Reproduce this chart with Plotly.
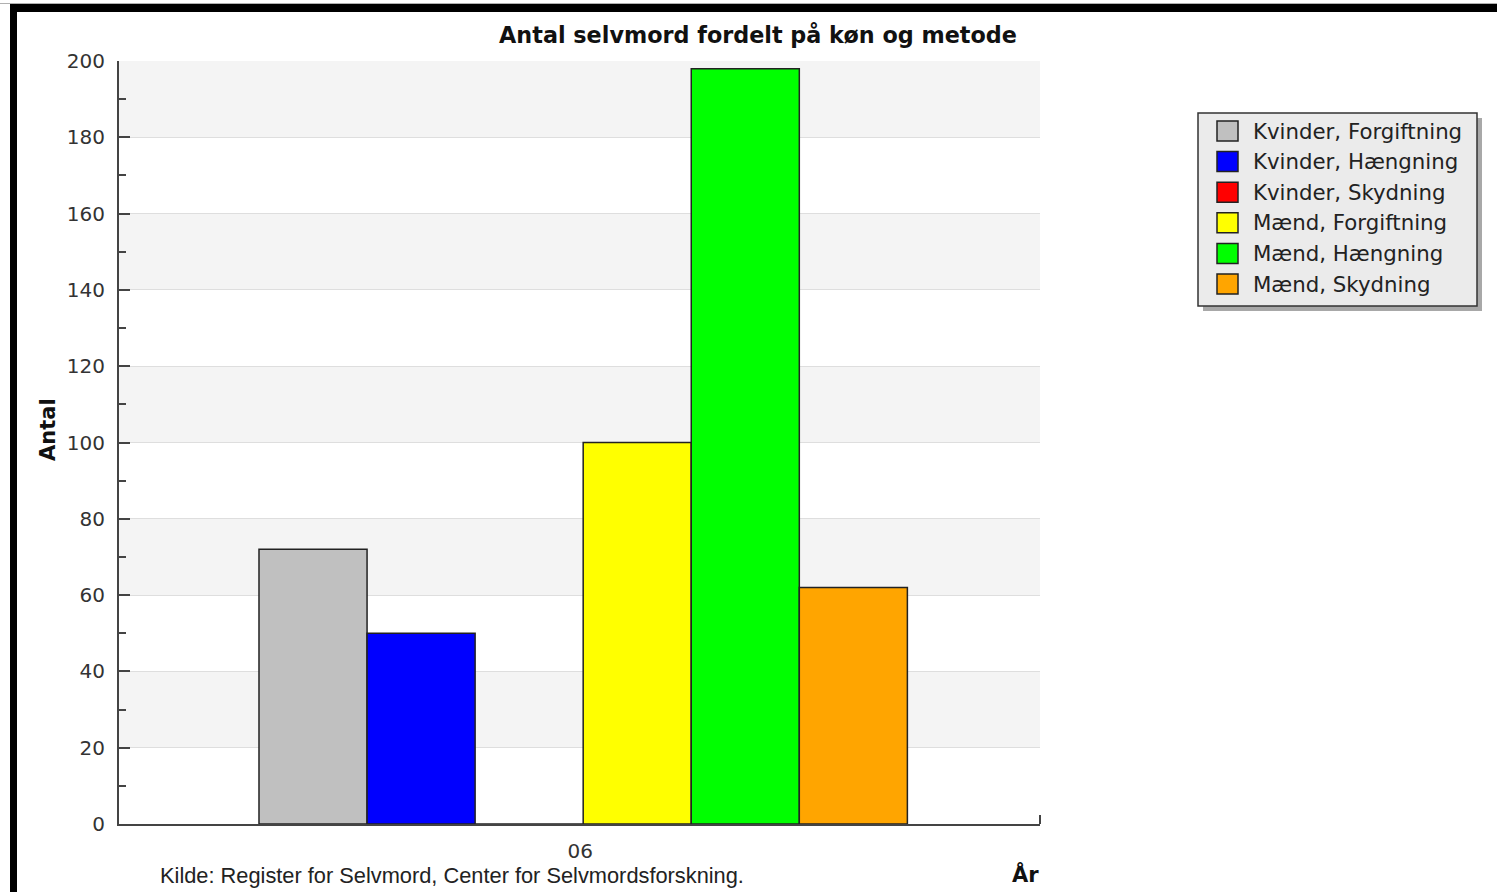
import plotly.graph_objects as go

# Data
year_labels = ["06"]
series_names = [
    "Kvinder, Forgiftning",
    "Kvinder, Hængning",
    "Kvinder, Skydning",
    "Mænd, Forgiftning",
    "Mænd, Hængning",
    "Mænd, Skydning",
]
series_values = [72, 50, 0, 100, 198, 62]
series_colors = ["#c0c0c0", "#0000ff", "#ff0000", "#ffff00", "#00ff00", "#ffa500"]
y_ticks = list(range(0, 201, 20))

W, H = 1497, 892
ML, MR, MT, MB = 119, 457, 61, 68
PW, PH = W - ML - MR, H - MT - MB


def px(x):
    return (x - ML) / PW


def py(y):
    return (H - MB - y) / PH


fig = go.Figure()
for name, val, col in zip(series_names, series_values, series_colors):
    fig.add_trace(go.Bar(
        x=year_labels, y=[val], name=name,
        marker=dict(color=col, line=dict(color="#222222", width=1.5)),
        showlegend=False,
    ))

# alternating horizontal bands behind the grid
shapes = []
for lo in [180, 140, 100, 60, 20]:
    shapes.append(dict(type="rect", xref="paper", yref="y", x0=0, x1=1,
                       y0=lo, y1=lo + 20, fillcolor="#f4f4f4",
                       line=dict(width=0), layer="below"))

# end tick at the right of the category axis
shapes.append(dict(type="line", xref="paper", yref="paper",
                   x0=1, x1=1, y0=0, y1=9 / PH,
                   line=dict(color="#444444", width=2)))

# frame border (top and left)
shapes.append(dict(type="rect", xref="paper", yref="paper",
                   x0=px(0), x1=px(W), y0=py(3), y1=py(4),
                   fillcolor="#b0b0b0", line=dict(width=0)))
shapes.append(dict(type="rect", xref="paper", yref="paper",
                   x0=px(10), x1=px(W + 5), y0=py(12), y1=py(4),
                   fillcolor="#000000", line=dict(width=0)))
shapes.append(dict(type="rect", xref="paper", yref="paper",
                   x0=px(10), x1=px(17), y0=py(H + 5), y1=py(4),
                   fillcolor="#000000", line=dict(width=0)))

# legend box with drop shadow
lx0, lx1, ly0, ly1 = 1198, 1477, 113, 306
shapes.append(dict(type="rect", xref="paper", yref="paper",
                   x0=px(lx0 + 5), x1=px(lx1 + 5), y0=py(ly1 + 5), y1=py(ly0 + 5),
                   fillcolor="#a8a8a8", line=dict(width=0)))
shapes.append(dict(type="rect", xref="paper", yref="paper",
                   x0=px(lx0), x1=px(lx1), y0=py(ly1), y1=py(ly0),
                   fillcolor="#ebebeb", line=dict(color="#333333", width=1.5)))

annotations = []
row_y0, row_step = 131, 30.6
for i, (name, col) in enumerate(zip(series_names, series_colors)):
    cy = row_y0 + i * row_step
    shapes.append(dict(type="rect", xref="paper", yref="paper",
                       x0=px(1217), x1=px(1238), y0=py(cy + 10), y1=py(cy - 10),
                       fillcolor=col, line=dict(color="#222222", width=1.5)))
    annotations.append(dict(xref="paper", yref="paper", x=px(1251), y=py(cy),
                            xanchor="left", yanchor="middle", showarrow=False,
                            text=name,
                            font=dict(family="DejaVu Sans", size=21.3, color="#222222")))

# axis titles and source note
annotations.append(dict(xref="paper", yref="paper", x=px(48), y=py(430),
                        xanchor="center", yanchor="middle", showarrow=False,
                        text="<b>Antal</b>", textangle=-90,
                        font=dict(family="DejaVu Sans", size=21, color="#111111")))
annotations.append(dict(xref="paper", yref="paper", x=px(1041), y=py(875),
                        xanchor="right", yanchor="middle", showarrow=False,
                        text="<b>År</b>",
                        font=dict(family="DejaVu Sans", size=21, color="#111111")))
annotations.append(dict(xref="paper", yref="paper", x=px(158), y=py(876),
                        xanchor="left", yanchor="middle", showarrow=False,
                        text="Kilde: Register for Selvmord, Center for Selvmordsforskning.",
                        font=dict(family="Liberation Sans", size=21.8, color="#222222")))

fig.update_layout(
    width=W, height=H,
    margin=dict(l=ML, r=MR, t=MT, b=MB, pad=0),
    paper_bgcolor="#ffffff", plot_bgcolor="#ffffff",
    barmode="group", bargap=0.296, bargroupgap=0,
    title=dict(text="<b>Antal selvmord fordelt på køn og metode</b>",
               x=px(758), xref="paper", xanchor="center",
               y=1 - 35 / H, yref="container", yanchor="middle",
               font=dict(family="DejaVu Sans", size=22.3, color="#111111")),
    shapes=shapes, annotations=annotations,
    xaxis=dict(range=[-0.504, 0.496], type="category", ticks="",
               showline=True, linecolor="#444444", linewidth=2,
               showgrid=False, zeroline=False, ticklabelstandoff=8,
               ticklabelshift=-3,
               tickfont=dict(family="DejaVu Sans", size=20, color="#333333")),
    yaxis=dict(range=[0, 200], tickvals=y_ticks,
               ticks="inside", ticklen=11, tickcolor="#444444", tickwidth=2,
               minor=dict(dtick=10, ticks="inside", ticklen=7,
                          tickcolor="#444444", tickwidth=2, showgrid=False),
               showline=True, linecolor="#444444", linewidth=2,
               showgrid=True, gridcolor="#dedede", gridwidth=1,
               zeroline=False, ticklabelstandoff=8,
               tickfont=dict(family="DejaVu Sans", size=20, color="#333333")),
)

fig.write_html("out.html")
